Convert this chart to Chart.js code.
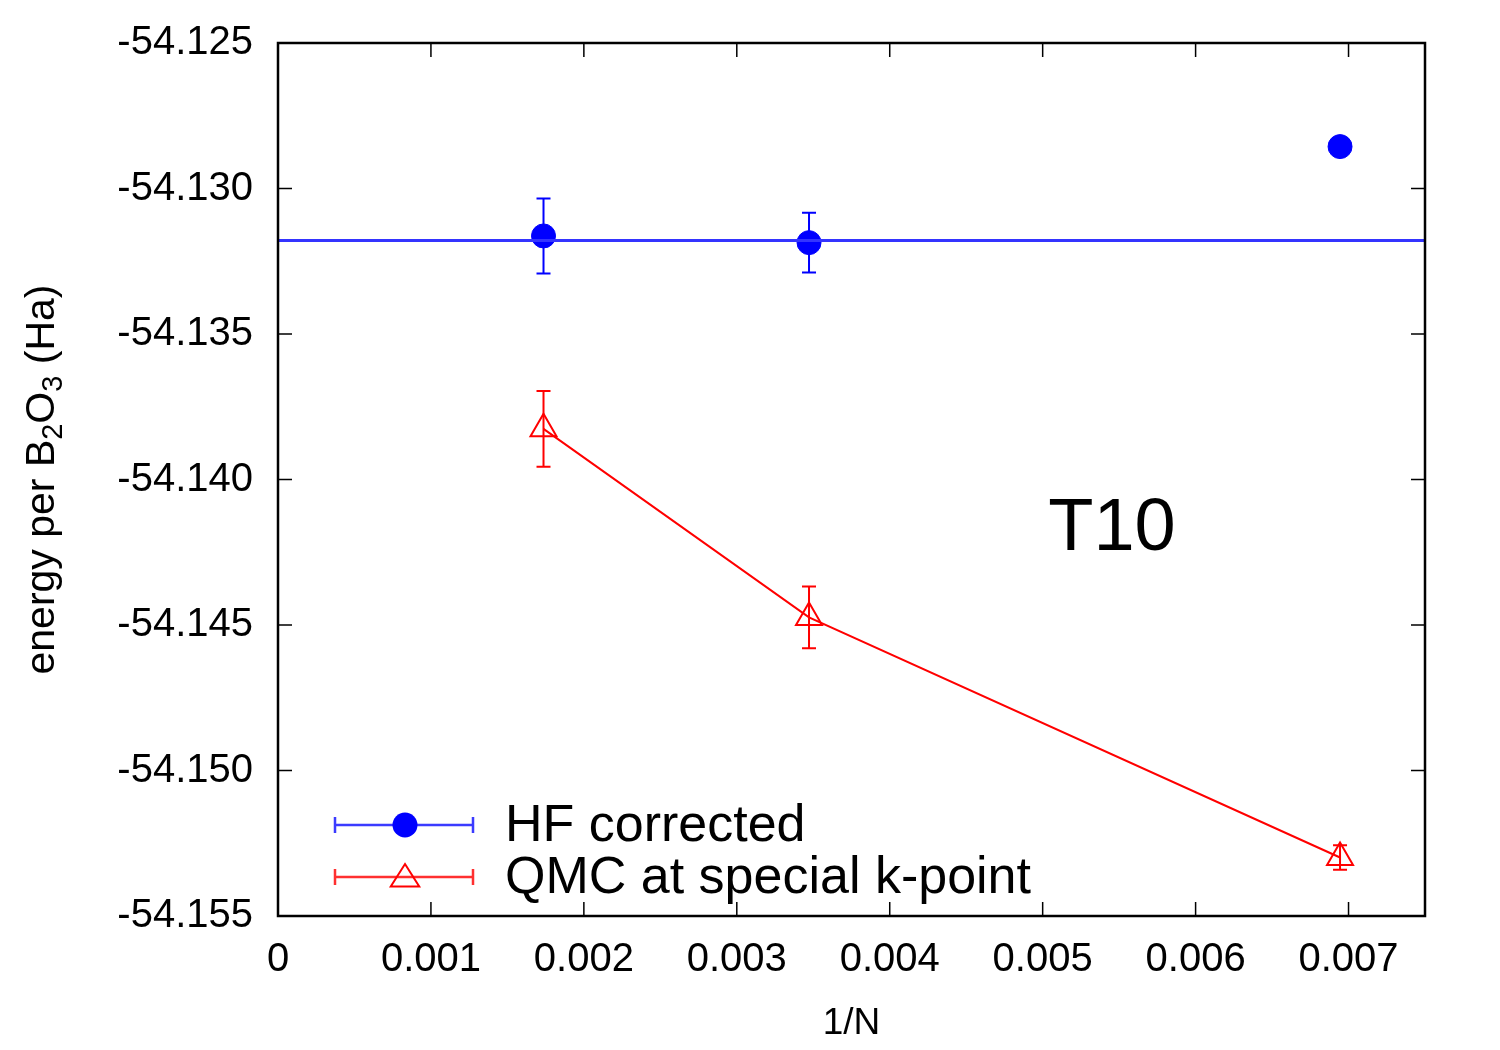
<!DOCTYPE html>
<html>
<head>
<meta charset="utf-8">
<script src="https://cdn.jsdelivr.net/npm/chart.js@4.4.1/dist/chart.umd.min.js"></script>
<style>
  html, body { margin: 0; padding: 0; background: #fff; }
</style>
</head>
<body>
<canvas id="energy-chart" width="1500" height="1050"></canvas>
<script>
// 1/N for the three supercells
const invN = [1 / 576, 1 / 288, 1 / 144];
// HF corrected energies (Ha) and error bars
const hfEnergy = [-54.13163, -54.13186, -54.12856];
const hfError = [0.00129, 0.00103, 0.0002];
// constant fit through the HF corrected points
const hfFit = -54.13179;
const fitRange = [0, 0.0075];
// QMC at special k-point
const qmcEnergy = [-54.13826, -54.14474, -54.15299];
const qmcError = [0.00130, 0.00106, 0.00042];

const xTicks = [0, 0.001, 0.002, 0.003, 0.004, 0.005, 0.006, 0.007];
const yTicks = [-54.155, -54.150, -54.145, -54.140, -54.135, -54.130, -54.125];

const FONT = "'Liberation Sans', Arial, Helvetica, sans-serif";
const BLUE = '#0000ff';
const RED = '#ff0000';

function drawErrBar(ctx, x, yTop, yBot, color, cap) {
    ctx.save();
    ctx.strokeStyle = color;
    ctx.lineWidth = 2;
    ctx.beginPath();
    ctx.moveTo(x, yTop); ctx.lineTo(x, yBot);
    ctx.moveTo(x - cap, yTop); ctx.lineTo(x + cap, yTop);
    ctx.moveTo(x - cap, yBot); ctx.lineTo(x + cap, yBot);
    ctx.stroke();
    ctx.restore();
}

function drawTriangle(ctx, x, y, r, color) {
    ctx.save();
    ctx.strokeStyle = color;
    ctx.lineWidth = 2;
    ctx.beginPath();
    ctx.moveTo(x, y - r);
    ctx.lineTo(x + r * 0.95, y + r / 2);
    ctx.lineTo(x - r * 0.95, y + r / 2);
    ctx.closePath();
    ctx.stroke();
    ctx.restore();
}

const gnuplotDecor = {
    id: 'gnuplotDecor',
    beforeDatasetsDraw(chart) {
        const ctx = chart.ctx;
        const ys = chart.scales.y;
        chart.data.datasets.forEach((ds, i) => {
            if (!ds.yErr) return;
            const meta = chart.getDatasetMeta(i);
            meta.data.forEach((pt, j) => {
                const v = ds.data[j].y;
                const e = ds.yErr[j];
                drawErrBar(ctx, pt.x, ys.getPixelForValue(v + e), ys.getPixelForValue(v - e), ds.borderColor, 7);
            });
        });
    },
    afterDraw(chart) {
        const ctx = chart.ctx;
        const a = chart.chartArea;
        const xs = chart.scales.x, ys = chart.scales.y;
        ctx.save();
        // frame
        ctx.strokeStyle = '#000';
        ctx.lineWidth = 2.5;
        ctx.strokeRect(a.left, a.top, a.right - a.left, a.bottom - a.top);
        // inward ticks, mirrored
        ctx.lineWidth = 1.5;
        ctx.beginPath();
        const tl = 14;
        xTicks.forEach(v => {
            const px = xs.getPixelForValue(v);
            ctx.moveTo(px, a.bottom); ctx.lineTo(px, a.bottom - tl);
            ctx.moveTo(px, a.top); ctx.lineTo(px, a.top + tl);
        });
        yTicks.forEach(v => {
            const py = ys.getPixelForValue(v);
            ctx.moveTo(a.left, py); ctx.lineTo(a.left + tl, py);
            ctx.moveTo(a.right, py); ctx.lineTo(a.right - tl, py);
        });
        ctx.stroke();

        // legend, gnuplot style
        const items = [
            { label: 'HF corrected', color: BLUE, line: '#3b3bff', y: 825, mark: 'circle' },
            { label: 'QMC at special k-point', color: RED, line: '#ff3030', y: 877, mark: 'triangle' }
        ];
        items.forEach(it => {
            ctx.strokeStyle = it.line;
            ctx.lineWidth = 2.5;
            ctx.beginPath();
            ctx.moveTo(335, it.y); ctx.lineTo(473, it.y);
            ctx.moveTo(335, it.y - 8); ctx.lineTo(335, it.y + 8);
            ctx.moveTo(473, it.y - 8); ctx.lineTo(473, it.y + 8);
            ctx.stroke();
            if (it.mark === 'circle') {
                ctx.fillStyle = it.color;
                ctx.beginPath();
                ctx.arc(405, it.y, 12.5, 0, Math.PI * 2);
                ctx.fill();
            } else {
                drawTriangle(ctx, 405, it.y + 2, 15, it.color);
            }
            ctx.fillStyle = '#000';
            ctx.font = '52px ' + FONT;
            ctx.textAlign = 'left';
            ctx.textBaseline = 'middle';
            ctx.fillText(it.label, 505, it.y + 2);
        });

        // T10 label
        ctx.font = '74px ' + FONT;
        ctx.textAlign = 'center';
        ctx.textBaseline = 'alphabetic';
        ctx.fillStyle = '#000';
        ctx.fillText('T10', 1112, 550);

        // y axis title with subscripts
        const parts = [['energy per B', false], ['2', true], ['O', false], ['3', true], [' (Ha)', false]];
        const big = '41px ' + FONT, small = '29px ' + FONT;
        let total = 0;
        parts.forEach(p => { ctx.font = p[1] ? small : big; total += ctx.measureText(p[0]).width; });
        ctx.translate(54, (a.top + a.bottom) / 2);
        ctx.rotate(-Math.PI / 2);
        ctx.textAlign = 'left';
        let cx = -total / 2;
        parts.forEach(p => {
            ctx.font = p[1] ? small : big;
            ctx.fillText(p[0], cx, p[1] ? 8 : 0);
            cx += ctx.measureText(p[0]).width;
        });
        ctx.restore();
    }
};

const ctx = document.getElementById('energy-chart');
new Chart(ctx, {
    type: 'scatter',
    data: {
        datasets: [
            {
                label: 'fit',
                data: fitRange.map(x => ({ x: x, y: hfFit })),
                showLine: true,
                borderColor: '#3434ff',
                borderWidth: 3,
                pointRadius: 0
            },
            {
                label: 'HF corrected',
                data: invN.map((x, i) => ({ x: x, y: hfEnergy[i] })),
                yErr: hfError,
                borderColor: BLUE,
                backgroundColor: BLUE,
                pointStyle: 'circle',
                pointRadius: 12,
                borderWidth: 1
            },
            {
                label: 'QMC at special k-point',
                data: invN.map((x, i) => ({ x: x, y: qmcEnergy[i] })),
                yErr: qmcError,
                showLine: true,
                borderColor: RED,
                backgroundColor: 'rgba(0,0,0,0)',
                borderWidth: 2,
                pointStyle: 'triangle',
                pointRadius: 15,
                pointBorderWidth: 2
            }
        ]
    },
    options: {
        responsive: false,
        animation: false,
        devicePixelRatio: 1,
        layout: { padding: { left: 0, right: 75, top: 0, bottom: 0 } },
        plugins: {
            legend: { display: false },
            tooltip: { enabled: false }
        },
        scales: {
            x: {
                type: 'linear',
                min: 0,
                max: 0.0075,
                afterBuildTicks: s => { s.ticks = xTicks.map(v => ({ value: v })); },
                afterFit: s => { s.height = 134; },
                grid: { display: false, drawTicks: false },
                border: { display: false },
                ticks: {
                    color: '#000',
                    font: { family: FONT, size: 40 },
                    padding: 20,
                    maxRotation: 0,
                    autoSkip: false,
                    callback: v => (v === 0 ? '0' : v.toFixed(3))
                },
                title: {
                    display: true,
                    text: '1/N',
                    color: '#000',
                    font: { family: FONT, size: 37 },
                    padding: { top: 0, bottom: 4 }
                }
            },
            y: {
                type: 'linear',
                min: -54.155,
                max: -54.125,
                afterBuildTicks: s => { s.ticks = yTicks.map(v => ({ value: v })); },
                afterFit: s => { s.width = 278; },
                grid: { display: false, drawTicks: false },
                border: { display: false },
                ticks: {
                    color: '#000',
                    font: { family: FONT, size: 40, lineHeight: 0.9 },
                    padding: 25,
                    autoSkip: false,
                    callback: v => v.toFixed(3)
                }
            }
        }
    },
    plugins: [gnuplotDecor]
});
</script>
</body>
</html>
